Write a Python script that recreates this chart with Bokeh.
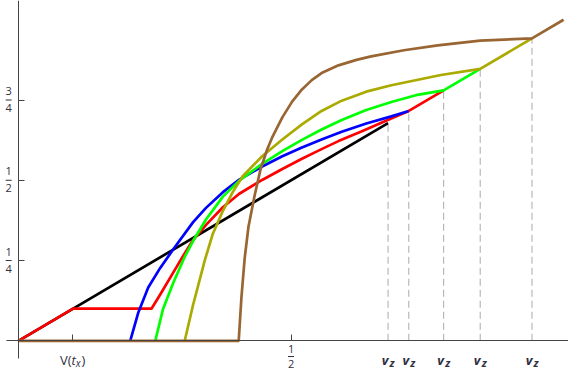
from bokeh.plotting import figure
from bokeh.models import Range1d, FixedTicker, CustomLabelingPolicy
from bokeh.core.properties import value
from bokeh.embed import file_html
from bokeh.resources import INLINE

# ---- data ----
black_x = [0.0, 0.678]
black_y = [0.0, 0.678]

red_x = [0.0, 0.100, 0.244, 0.260, 0.289, 0.302, 0.320, 0.344, 0.375, 0.405, 0.447,
         0.484, 0.520, 0.556, 0.587, 0.629, 0.671, 0.716, 0.780]
red_y = [0.0, 0.100, 0.100, 0.144, 0.227, 0.264, 0.313, 0.361, 0.416, 0.458, 0.501,
         0.535, 0.567, 0.597, 0.622, 0.652, 0.683, 0.716, 0.780]

blue_x = [0.205, 0.220, 0.238, 0.260, 0.284, 0.320, 0.344, 0.375, 0.405, 0.447,
          0.484, 0.520, 0.556, 0.593, 0.638, 0.684, 0.716]
blue_y = [0.0, 0.089, 0.166, 0.227, 0.285, 0.369, 0.414, 0.463, 0.502, 0.543,
          0.575, 0.602, 0.627, 0.651, 0.677, 0.699, 0.716]

green_x = [0.251, 0.265, 0.284, 0.305, 0.320, 0.344, 0.375, 0.405, 0.447, 0.484,
           0.520, 0.556, 0.593, 0.638, 0.684, 0.729, 0.780, 0.847]
green_y = [0.0, 0.098, 0.181, 0.262, 0.310, 0.378, 0.449, 0.499, 0.551, 0.591,
           0.626, 0.658, 0.688, 0.719, 0.744, 0.765, 0.780, 0.847]

olive_x = [0.305, 0.320, 0.342, 0.356, 0.375, 0.393, 0.411, 0.447, 0.484, 0.520,
           0.556, 0.593, 0.638, 0.684, 0.775, 0.847, 0.942]
olive_y = [0.0, 0.110, 0.252, 0.331, 0.405, 0.463, 0.512, 0.575, 0.627, 0.674,
           0.716, 0.748, 0.776, 0.796, 0.828, 0.847, 0.942]

brown_x = [0.0, 0.404, 0.409, 0.415, 0.422, 0.433, 0.444, 0.456, 0.465, 0.484, 0.502,
           0.520, 0.538, 0.556, 0.587, 0.620, 0.647, 0.707, 0.769, 0.847, 0.942, 1.0]
brown_y = [0.0, 0.0, 0.135, 0.258, 0.356, 0.451, 0.534, 0.595, 0.632, 0.696, 0.745,
           0.783, 0.812, 0.834, 0.858, 0.875, 0.886, 0.905, 0.920, 0.935, 0.942, 1.0]

vz = [0.678, 0.716, 0.780, 0.847, 0.942]
vz_main = "v"
vz_sub = "z"

x_ticks = [0.1, 0.5]
y_ticks = [0.25, 0.5, 0.75]
y_num = ["1", "1", "3"]
y_den = ["4", "2", "4"]
half_num = "1"
half_den = "2"
vtx_parts = ["V(", "t", "x", ")"]

FONT = value("Open Sans")
TXT = "#2f2f3f"

# ---- figure ----
p = figure(width=568, height=374, output_backend="svg", toolbar_location=None,
           x_range=Range1d(-0.033, 1.009), y_range=Range1d(-0.105, 1.060),
           min_border=0, outline_line_color=None)
p.grid.visible = False

no_labels = "for (let i = 0; i < indices.size; i++) { indices.unset(i) }\nreturn indices"
for ax in (p.xaxis[0], p.yaxis[0]):
    ax.fixed_location = 0
    ax.axis_line_color = "#444444"
    ax.axis_line_width = 1
    ax.major_tick_in = 6
    ax.major_tick_out = 0
    ax.major_tick_line_color = "#444444"
    ax.minor_tick_line_color = None
    ax.major_label_policy = CustomLabelingPolicy(code=no_labels)

p.xaxis.ticker = FixedTicker(ticks=x_ticks)
p.xaxis.bounds = (-0.022, 1.01)
p.yaxis.ticker = FixedTicker(ticks=y_ticks)
p.yaxis.bounds = (-0.055, 1.07)

# dashed drop lines
p.segment(x0=vz, y0=[0] * len(vz), x1=vz, y1=vz, line_color="#aaaaaa",
          line_width=1, line_dash="7 4")

lw = 2.7
p.line(black_x, black_y, line_color="#000000", line_width=lw)
p.line(red_x, red_y, line_color="#ff0000", line_width=lw)
p.line(blue_x, blue_y, line_color="#0000ff", line_width=lw)
p.line(green_x, green_y, line_color="#00ff00", line_width=lw)
p.line(olive_x, olive_y, line_color="#aaaa00", line_width=lw)
p.line(brown_x, brown_y, line_color="#996633", line_width=lw)

# y tick labels as stacked fractions
ylab_x = [-0.018] * len(y_ticks)
p.text(x=ylab_x, y=y_ticks, text=y_num, y_offset=-9, text_align="center",
       text_baseline="middle", text_font=FONT, text_font_size="11px", text_color=TXT)
p.text(x=ylab_x, y=y_ticks, text=y_den, y_offset=8, text_align="center",
       text_baseline="middle", text_font=FONT, text_font_size="11px", text_color=TXT)
p.scatter(x=ylab_x, y=y_ticks, marker="dash", size=6, line_color=TXT, line_width=1)

# x tick label 1/2
hy = -0.049
p.text(x=[0.5], y=[hy], text=[half_num], y_offset=-8, text_align="center",
       text_baseline="middle", text_font=FONT, text_font_size="11px", text_color=TXT)
p.text(x=[0.5], y=[hy], text=[half_den], y_offset=7, text_align="center",
       text_baseline="middle", text_font=FONT, text_font_size="11px", text_color=TXT)
p.scatter(x=[0.5], y=[hy], marker="dash", size=6, line_color=TXT, line_width=1)

# x tick label V(t_x)
ly = -0.060
p.text(x=[0.1], y=[ly], text=[vtx_parts[0]], x_offset=-1.5, text_align="right",
       text_baseline="middle", text_font=FONT, text_font_size="13px", text_color=TXT)
p.text(x=[0.1], y=[ly], text=[vtx_parts[1]], x_offset=-1.5, text_align="left",
       text_baseline="middle", text_font=FONT, text_font_size="13px",
       text_font_style="italic", text_color=TXT)
p.text(x=[0.1], y=[ly], text=[vtx_parts[2]], x_offset=2.8, y_offset=3, text_align="left",
       text_baseline="middle", text_font=FONT, text_font_size="10px",
       text_font_style="italic", text_color=TXT)
p.text(x=[0.1], y=[ly], text=[vtx_parts[3]], x_offset=8.5, text_align="left",
       text_baseline="middle", text_font=FONT, text_font_size="13px", text_color=TXT)

# v_z labels
p.text(x=vz, y=[ly] * len(vz), text=[vz_main] * len(vz), x_offset=-3,
       text_align="center", text_baseline="middle", text_font=FONT,
       text_font_style="bold italic", text_font_size="13px", text_color=TXT)
p.text(x=vz, y=[ly] * len(vz), text=[vz_sub] * len(vz), x_offset=4, y_offset=2,
       text_align="center", text_baseline="middle", text_font=FONT,
       text_font_style="bold italic", text_font_size="11px", text_color=TXT)

open("out.html", "w").write(file_html(p, INLINE))
